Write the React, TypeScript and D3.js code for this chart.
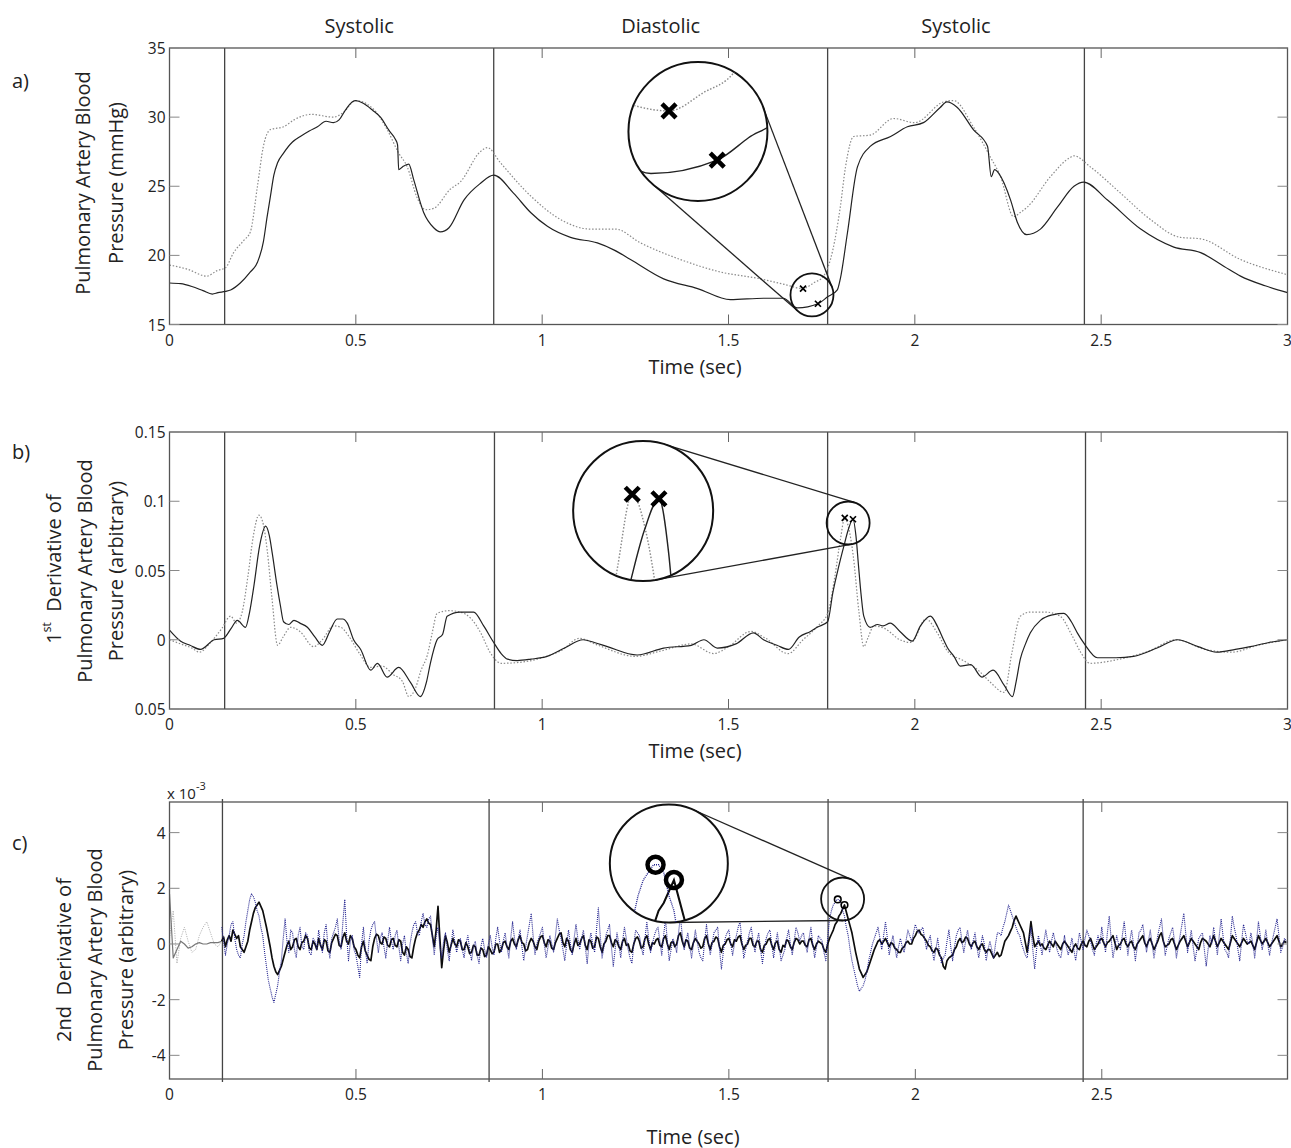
import * as d3 from "d3";

const FONT = "'Open Sans', 'DejaVu Sans', sans-serif";
const W = 1291;
const H = 1148;
const LEFT = 169.5;
const RIGHT = 1287.5;

// ---------- shared
const phaseNames = ["Systolic", "Diastolic", "Systolic"];
const timeTicks = [0, 0.5, 1, 1.5, 2, 2.5, 3];
const timeTickLabels = ["0", "0.5", "1", "1.5", "2", "2.5", "3"];

// ---------- a) pressure (mmHg)
const aSolidT = [0, 0.03, 0.06, 0.09, 0.115, 0.13, 0.15, 0.164, 0.19, 0.217, 0.236, 0.252, 0.262, 0.271, 0.28, 0.29, 0.306, 0.33, 0.351, 0.375, 0.397, 0.42, 0.44, 0.455, 0.472, 0.49, 0.5, 0.52, 0.545, 0.566, 0.59, 0.606, 0.612, 0.615, 0.625, 0.642, 0.655, 0.682, 0.709, 0.727, 0.75, 0.79, 0.834, 0.87, 0.923, 0.969, 1.014, 1.076, 1.148, 1.192, 1.237, 1.326, 1.417, 1.505, 1.594, 1.647, 1.685, 1.74, 1.766, 1.792, 1.8, 1.819, 1.846, 1.881, 1.935, 1.98, 2.023, 2.068, 2.086, 2.114, 2.157, 2.195, 2.205, 2.214, 2.226, 2.257, 2.275, 2.3, 2.337, 2.383, 2.427, 2.453, 2.517, 2.606, 2.695, 2.767, 2.83, 2.874, 2.94, 3.0];
const aSolidP = [18.0, 17.95, 17.75, 17.45, 17.2, 17.3, 17.4, 17.5, 18.0, 18.8, 19.5, 21.0, 22.8, 24.3, 25.8, 26.7, 27.4, 28.2, 28.6, 29.0, 29.3, 29.7, 29.6, 29.8, 30.5, 31.1, 31.2, 31.0, 30.5, 30.0, 29.0, 28.4, 28.0, 26.2, 26.4, 26.6, 25.5, 23.1, 22.0, 21.7, 22.0, 24.0, 25.2, 25.8, 24.5, 23.1, 22.1, 21.3, 20.9, 20.4, 19.7, 18.3, 17.6, 16.8, 16.9, 16.9, 16.2, 16.5, 17.0, 17.5, 18.3, 21.6, 26.4, 27.9, 28.6, 29.3, 29.6, 30.7, 31.1, 30.7, 29.1, 27.9, 25.7, 26.2, 25.9, 24.0, 22.4, 21.5, 21.9, 23.5, 25.0, 25.3, 24.0, 21.9, 20.6, 20.2, 19.2, 18.5, 17.8, 17.3];
const aDotT = [0, 0.048, 0.1, 0.128, 0.15, 0.172, 0.2, 0.217, 0.236, 0.252, 0.271, 0.306, 0.334, 0.38, 0.44, 0.465, 0.5, 0.55, 0.584, 0.615, 0.638, 0.664, 0.687, 0.709, 0.754, 0.78, 0.834, 0.853, 0.888, 0.969, 1.049, 1.13, 1.197, 1.264, 1.371, 1.478, 1.586, 1.65, 1.7, 1.728, 1.755, 1.78, 1.8, 1.814, 1.836, 1.88, 1.943, 2.0, 2.077, 2.104, 2.157, 2.203, 2.23, 2.265, 2.283, 2.302, 2.364, 2.418, 2.427, 2.471, 2.552, 2.632, 2.713, 2.766, 2.874, 3.0];
const aDotP = [19.3, 19.0, 18.5, 18.9, 19.1, 20.2, 21.1, 21.7, 25.0, 27.9, 29.1, 29.3, 29.8, 30.2, 30.0, 30.3, 31.2, 30.5, 29.1, 27.4, 26.4, 24.2, 23.3, 23.4, 24.8, 25.3, 27.5, 27.8, 26.7, 24.3, 22.6, 21.9, 21.9, 20.9, 19.7, 18.8, 18.3, 17.9, 17.6, 18.0, 18.5, 20.4, 23.5, 26.4, 28.6, 28.7, 29.9, 29.6, 31.1, 31.2, 29.3, 27.1, 25.7, 22.8, 23.1, 23.5, 25.7, 27.1, 27.2, 26.4, 24.5, 22.6, 21.3, 21.2, 19.7, 18.6];
const aPhaseLines = [0.148, 0.87, 1.766, 2.455];
const aMarks: [number, number][] = [[1.7, 17.6], [1.74, 16.5]];
const aYTicks = [15, 20, 25, 30, 35];
const aYTickLabels = ["15", "20", "25", "30", "35"];

// ---------- b) 1st derivative
const bSolidT = [0, 0.03, 0.055, 0.083, 0.12, 0.145, 0.165, 0.182, 0.204, 0.215, 0.226, 0.242, 0.258, 0.268, 0.276, 0.288, 0.298, 0.306, 0.32, 0.334, 0.35, 0.37, 0.39, 0.41, 0.43, 0.45, 0.465, 0.477, 0.494, 0.513, 0.54, 0.558, 0.584, 0.615, 0.647, 0.673, 0.69, 0.7, 0.718, 0.733, 0.745, 0.78, 0.816, 0.843, 0.87, 0.89, 0.907, 0.933, 0.97, 1.013, 1.06, 1.11, 1.14, 1.175, 1.255, 1.326, 1.4, 1.434, 1.47, 1.52, 1.567, 1.594, 1.63, 1.661, 1.69, 1.72, 1.738, 1.766, 1.78, 1.795, 1.809, 1.822, 1.834, 1.842, 1.849, 1.856, 1.863, 1.88, 1.9, 1.915, 1.934, 1.96, 1.993, 2.015, 2.042, 2.06, 2.077, 2.088, 2.105, 2.122, 2.15, 2.18, 2.21, 2.24, 2.262, 2.272, 2.283, 2.297, 2.31, 2.337, 2.37, 2.4, 2.42, 2.436, 2.455, 2.49, 2.54, 2.587, 2.65, 2.705, 2.76, 2.81, 2.86, 2.9, 2.95, 3.0];
const bSolidV = [0.007, -0.001, -0.004, -0.007, 0.0, 0.001, 0.008, 0.014, 0.009, 0.02, 0.038, 0.068, 0.082, 0.075, 0.062, 0.04, 0.024, 0.013, 0.011, 0.014, 0.012, 0.009, 0.002, -0.004, 0.006, 0.015, 0.015, 0.012, 0.0, -0.007, -0.022, -0.017, -0.027, -0.02, -0.031, -0.041, -0.03, -0.017, 0.0, 0.004, 0.017, 0.02, 0.02, 0.01, -0.002, -0.01, -0.014, -0.015, -0.014, -0.012, -0.006, 0.0, -0.002, -0.005, -0.011, -0.006, -0.004, 0.0, -0.006, -0.003, 0.005, 0.0, -0.004, -0.007, 0.002, 0.006, 0.009, 0.013, 0.034, 0.052, 0.067, 0.08, 0.087, 0.075, 0.053, 0.032, 0.017, 0.009, 0.011, 0.01, 0.012, 0.006, -0.001, 0.01, 0.017, 0.01, 0.0, -0.006, -0.012, -0.019, -0.018, -0.027, -0.022, -0.033, -0.041, -0.03, -0.014, -0.003, 0.005, 0.014, 0.018, 0.019, 0.013, 0.005, -0.003, -0.013, -0.013, -0.012, -0.006, 0.0, -0.005, -0.009, -0.007, -0.005, -0.002, 0.0];
const bDotT = [0, 0.03, 0.06, 0.08, 0.11, 0.14, 0.164, 0.18, 0.195, 0.21, 0.225, 0.24, 0.252, 0.262, 0.275, 0.29, 0.305, 0.325, 0.35, 0.387, 0.41, 0.44, 0.46, 0.48, 0.51, 0.54, 0.57, 0.6, 0.625, 0.642, 0.66, 0.675, 0.692, 0.705, 0.718, 0.75, 0.78, 0.81, 0.835, 0.86, 0.89, 0.95, 1.0, 1.05, 1.1, 1.15, 1.25, 1.32, 1.4, 1.46, 1.5, 1.56, 1.6, 1.66, 1.7, 1.74, 1.766, 1.785, 1.8, 1.812, 1.823, 1.835, 1.85, 1.863, 1.875, 1.89, 1.92, 1.96, 1.99, 2.03, 2.06, 2.09, 2.13, 2.17, 2.2, 2.24, 2.26, 2.283, 2.31, 2.35, 2.39, 2.42, 2.445, 2.47, 2.55, 2.63, 2.7, 2.78, 2.85, 2.92, 3.0];
const bDotV = [0.0, -0.003, -0.006, -0.009, -0.002, 0.008, 0.017, 0.012, 0.02, 0.045, 0.075, 0.09, 0.083, 0.065, 0.03, -0.004, 0.002, 0.009, 0.006, -0.005, 0.0, 0.01, 0.009, 0.003, -0.01, -0.02, -0.019, -0.025, -0.03, -0.041, -0.035, -0.022, -0.011, 0.005, 0.019, 0.021, 0.02, 0.015, 0.005, -0.009, -0.017, -0.016, -0.013, -0.008, 0.001, -0.004, -0.012, -0.008, -0.003, -0.01, -0.005, 0.006, 0.001, -0.01, 0.0, 0.01, 0.019, 0.045, 0.072, 0.088, 0.08, 0.06, 0.02, -0.005, 0.002, 0.01, 0.008, 0.0, -0.002, 0.015, 0.005, -0.009, -0.015, -0.022, -0.03, -0.038, -0.01, 0.017, 0.02, 0.02, 0.017, 0.004, -0.009, -0.017, -0.014, -0.008, 0.0, -0.007, -0.009, -0.004, 0.0];
const bPhaseLines = [0.148, 0.872, 1.766, 2.458];
const bMarks: [number, number][] = [[1.812, 0.088], [1.834, 0.087]];
const bYTicks = [-0.05, 0, 0.05, 0.1, 0.15];
const bYTickLabels = ["0.05", "0", "0.05", "0.1", "0.15"];

// ---------- c) 2nd derivative (x 10^-3)
// first 0.14 s (10 ms samples), drawn in grey
const cPreStep = 0.01;
const cPreSolid = [1.8, -0.5, -0.2, 0.1, 0.0, -0.15, -0.1, 0.0, 0.05, 0.0, 0.0, 0.05, 0.05, 0.05, 0.1];
const cPreDot = [0.2, 1.2, -0.7, 0.2, 0.6, 0.1, -0.3, -0.2, 0.3, 0.6, 0.8, 0.4, 0.0, -0.1, 0.1];
// from 0.14 s on, 5 ms samples
const cStart = 0.14;
const cStep = 0.005;
const cSolid = [
  0.1, 0.25, -0.1, 0.15, 0.3, 0.1, 0.5, 0.35, 0.2, 0.3, -0.1, -0.2,
  -0.3, -0.1, 0.1, 0.5, 0.8, 1.1, 1.3, 1.4, 1.5, 1.35, 1.2, 0.9, 0.6, 0.25, -0.1, -0.5, -0.8, -1.0, -1.1, -0.95,
  -0.8, -0.55, -0.3, -0.05, 0.1, -0.2, -0.1, 0.15, 0.2, -0.1, -0.2, 0.05, 0.1, 0.3, 0.2, -0.15, -0.2, 0.1, 0.0, -0.2,
  0.2, -0.05, -0.2, 0.15, 0.1, -0.25, -0.3, 0.05, 0.2, 0.35, 0.3, -0.05, -0.1, 0.25, 0.4, 0.1, 0.0, 0.3, 0.2, -0.1,
  -0.2, -0.4, -0.5, -0.1, 0.1, -0.25, -0.4, -0.55, -0.6, -0.1, 0.2, 0.35, 0.3, 0.05, 0.0, 0.25, 0.2, -0.05, -0.1, 0.15,
  0.2, -0.05, -0.1, 0.15, 0.1, -0.3, -0.4, -0.1, -0.2, -0.45, -0.5, -0.1, 0.2, 0.4, 0.5, 0.7, 0.6, 0.8, 0.9, 0.75,
  0.7, 0.3, -0.1, 0.5, 1.35, 0.2, -0.85, -0.2, 0.3, 0.05, -0.3, -0.05, 0.2, 0.0, -0.1, 0.15, 0.1, -0.2, -0.2, 0.05,
  -0.1, -0.35, -0.3, -0.05, -0.1, -0.4, -0.4, -0.15, -0.2, -0.45, -0.4, -0.1, -0.2, -0.35, -0.3, 0.0, 0.0, -0.3, -0.2, 0.05,
  0.1, -0.1, -0.2, 0.1, 0.2, 0.0, -0.1, 0.15, 0.3, 0.05, 0.0, -0.25, -0.2, 0.05, 0.2, 0.1, -0.1, -0.2, 0.1, 0.25,
  0.3, 0.05, -0.1, 0.15, 0.1, -0.15, -0.2, 0.05, 0.2, 0.35, 0.4, 0.05, -0.1, 0.2, 0.1, -0.2, -0.3, 0.0, 0.2, -0.05,
  0.0, 0.2, 0.3, -0.05, -0.2, 0.15, 0.1, -0.15, -0.1, 0.25, 0.2, -0.1, -0.3, 0.0, 0.1, 0.3, 0.3, 0.05, -0.1, 0.15,
  0.1, -0.1, -0.2, 0.1, 0.2, -0.05, 0.0, -0.25, -0.3, 0.0, 0.2, 0.25, 0.1, -0.15, -0.1, 0.2, 0.3, 0.0, -0.2, 0.05,
  0.0, 0.15, 0.2, -0.05, -0.1, 0.2, 0.3, 0.0, -0.2, 0.05, 0.1, -0.1, 0.0, 0.3, 0.4, 0.1, -0.1, 0.15, 0.1, -0.15,
  -0.2, 0.05, 0.2, 0.1, 0.0, -0.15, -0.1, 0.2, 0.3, 0.0, -0.2, 0.05, 0.1, 0.25, 0.2, -0.1, -0.3, -0.05, 0.0, 0.15,
  0.2, 0.0, -0.1, 0.15, 0.1, 0.25, 0.3, 0.0, -0.2, -0.05, 0.0, 0.2, 0.2, -0.05, -0.1, 0.1, 0.1, -0.2, -0.3, -0.05,
  0.0, 0.15, 0.2, -0.05, -0.2, 0.05, 0.1, -0.2, -0.3, -0.05, -0.1, 0.15, 0.1, -0.1, -0.2, 0.05, 0.2, 0.15, 0.0, 0.1,
  0.1, -0.05, -0.1, 0.15, 0.2, -0.05, -0.2, 0.0, 0.1, 0.05, 0.0, -0.2, -0.3, 0.0, 0.2, 0.35, 0.5, 0.7, 0.8, 1.0,
  1.1, 1.25, 1.4, 1.15, 0.9, 0.65, 0.4, 0.05, -0.3, -0.6, -0.9, -1.05, -1.2, -1.1, -1.0, -0.8, -0.6, -0.4, -0.2, -0.05,
  0.1, 0.15, 0.0, 0.1, 0.2, 0.05, -0.1, 0.05, 0.0, -0.15, -0.2, -0.3, -0.3, -0.15, -0.1, 0.05, 0.1, 0.0, 0.0, 0.2,
  0.3, 0.45, 0.5, 0.35, 0.3, 0.2, 0.1, -0.05, -0.1, -0.25, -0.3, -0.15, -0.2, -0.4, -0.5, -0.8, -0.9, -0.6, -0.5, -0.45,
  -0.4, -0.2, -0.1, 0.1, 0.2, 0.05, 0.1, 0.25, 0.2, 0.0, -0.1, 0.05, 0.1, -0.1, -0.2, -0.05, 0.0, -0.2, -0.3, -0.2,
  -0.2, -0.35, -0.5, -0.4, -0.3, -0.45, -0.4, -0.15, 0.1, 0.2, 0.3, 0.45, 0.6, 0.85, 1.0, 0.85, 0.7, 0.55, 0.4, 0.05,
  -0.3, 0.2, 0.8, 0.3, -0.1, 0.0, 0.1, -0.05, 0.0, -0.15, -0.2, -0.05, 0.1, 0.0, -0.1, 0.1, 0.0, -0.1, -0.2, 0.0,
  0.1, 0.0, -0.1, -0.2, -0.3, -0.1, 0.0, -0.15, -0.2, 0.0, 0.1, -0.05, -0.1, 0.1, 0.2, 0.0, -0.2, -0.1, 0.0, 0.15,
  0.2, 0.05, -0.1, 0.05, 0.1, 0.2, 0.3, 0.05, -0.2, -0.05, 0.0, 0.15, 0.2, 0.0, -0.1, 0.05, 0.1, -0.1, -0.2, 0.0,
  0.1, 0.2, 0.3, 0.05, -0.1, 0.1, 0.2, 0.0, -0.2, -0.05, 0.1, 0.3, 0.4, 0.1, -0.1, -0.05, 0.0, 0.15, 0.2, 0.0,
  -0.2, -0.05, 0.1, 0.2, 0.3, 0.1, -0.1, 0.05, 0.2, 0.1, 0.0, -0.1, -0.2, 0.05, 0.2, 0.15, 0.1, 0.0, -0.1, 0.1,
  0.3, 0.1, -0.1, 0.05, 0.2, 0.1, 0.0, -0.1, -0.2, 0.05, 0.3, 0.2, 0.1, 0.0, -0.1, 0.05, 0.2, 0.1, 0.0, 0.05,
  0.1, -0.05, -0.2, 0.05, 0.3, 0.15, 0.0, 0.1, 0.2, 0.05, -0.1, 0.0, 0.1, 0.2, 0.3, 0.1, -0.1, 0.0, 0.1, 0.05,
];
const cDot = [
  0.6, 0.1, -0.4, 0.0, 0.3, 0.7, 0.8, 0.2, -0.2, -0.4, -0.5, 0.0,
  0.3, 0.8, 1.2, 1.6, 1.8, 1.7, 1.5, 1.2, 1.0, 0.6, 0.3, -0.3, -0.8, -1.3, -1.6, -1.9, -2.1, -1.8, -1.5, -1.0,
  -0.6, 0.2, 0.9, 0.1, -0.3, 0.5, 0.4, -0.2, -0.5, 0.3, 0.6, -0.1, -0.2, 0.4, 0.3, -0.3, -0.4, 0.2, 0.1, -0.2,
  0.5, 0.0, -0.3, 0.4, 0.7, -0.1, -0.5, 0.2, 0.4, 0.6, 0.9, 0.1, -0.2, 0.8, 1.6, 0.3, -0.6, 0.1, 0.3, -0.2,
  -0.4, -0.8, -1.2, 0.0, 0.6, -0.2, -0.7, 0.1, 0.5, 0.7, 0.8, 0.2, -0.3, 0.2, 0.4, -0.1, -0.5, 0.1, 0.6, 0.1,
  -0.2, 0.3, 0.5, -0.1, -0.6, 0.0, 0.3, -0.3, -0.7, 0.0, 0.4, 0.7, 0.8, 0.4, 0.3, 0.8, 1.1, 0.7, 0.6, 0.9,
  1.0, 0.2, -0.4, 0.3, 0.6, -0.1, -0.5, 0.1, 0.4, -0.2, -0.6, 0.0, 0.5, 0.1, -0.3, 0.0, 0.2, -0.2, -0.5, 0.0,
  0.3, -0.2, -0.6, -0.1, 0.1, -0.4, -0.7, -0.1, 0.2, -0.2, -0.5, 0.0, 0.3, -0.1, -0.4, 0.2, 0.6, 0.1, -0.3, 0.1,
  0.4, -0.1, -0.5, 0.2, 0.8, 0.2, -0.2, 0.2, 0.5, -0.1, -0.6, -0.1, 0.3, 0.7, 1.1, 0.3, -0.4, 0.0, 0.2, 0.4,
  0.6, 0.0, -0.5, -0.1, 0.3, 0.0, -0.3, 0.3, 0.9, 0.5, 0.2, -0.2, -0.6, 0.0, 0.5, 0.0, -0.4, 0.2, 0.7, 0.2,
  -0.2, 0.2, 0.5, -0.1, -0.7, 0.0, 0.4, 0.0, -0.3, 0.5, 1.3, 0.3, -0.5, -0.1, 0.3, 0.5, 0.7, -0.1, -0.8, -0.2,
  0.4, 0.0, -0.5, 0.1, 0.6, 0.2, -0.2, -0.5, -0.7, 0.0, 0.5, 0.4, 0.3, -0.1, -0.4, 0.2, 0.8, 0.2, -0.3, 0.0,
  0.3, 0.5, 0.6, 0.1, -0.4, 0.3, 0.9, 0.1, -0.6, -0.2, 0.2, 0.0, -0.3, 0.4, 1.0, 0.3, -0.2, 0.1, 0.4, -0.1,
  -0.5, 0.0, 0.5, 0.1, -0.3, -0.5, -0.6, 0.1, 0.7, 0.1, -0.4, 0.0, 0.4, 0.5, 0.6, -0.2, -0.9, -0.3, 0.2, 0.4,
  0.5, 0.0, -0.4, 0.0, 0.3, 0.6, 0.8, 0.1, -0.5, -0.2, 0.1, 0.4, 0.6, 0.1, -0.3, 0.1, 0.4, -0.2, -0.7, -0.2,
  0.2, 0.4, 0.5, 0.0, -0.5, 0.0, 0.4, -0.1, -0.6, -0.4, -0.2, 0.2, 0.5, 0.0, -0.4, 0.1, 0.6, 0.4, 0.1, 0.3,
  0.4, 0.0, -0.3, 0.2, 0.6, 0.0, -0.5, -0.1, 0.3, 0.2, 0.1, -0.3, -0.6, 0.2, 0.9, 1.2, 1.4, 1.5, 1.6, 1.6,
  1.5, 1.2, 1.0, 0.6, 0.3, -0.2, -0.6, -0.9, -1.2, -1.5, -1.7, -1.6, -1.5, -1.3, -1.0, -0.6, -0.3, 0.0, 0.2, 0.4,
  0.6, 0.2, -0.2, 0.3, 0.8, 0.2, -0.4, 0.0, 0.3, -0.1, -0.5, -0.1, 0.2, -0.1, -0.3, 0.1, 0.5, 0.3, 0.1, 0.4,
  0.7, 0.5, 0.4, 0.5, 0.6, 0.2, -0.2, 0.1, 0.3, -0.2, -0.6, -0.2, 0.2, -0.3, -0.7, -0.5, -0.4, 0.1, 0.5, -0.1,
  -0.6, -0.1, 0.3, 0.5, 0.6, 0.1, -0.3, 0.1, 0.5, 0.1, -0.2, 0.1, 0.4, -0.1, -0.5, -0.1, 0.3, 0.0, -0.6, -0.2,
  0.1, -0.2, -0.5, 0.0, 0.4, 0.4, 0.3, 0.6, 0.8, 1.1, 1.4, 1.2, 1.0, 0.8, 0.6, 0.4, 0.3, 0.0, -0.2, -0.4,
  -0.5, 0.1, 0.6, -0.2, -0.9, -0.2, 0.3, 0.0, -0.4, 0.1, 0.5, 0.1, -0.3, 0.1, 0.4, 0.1, -0.2, -0.4, -0.5, -0.1,
  0.3, -0.1, -0.4, -0.1, 0.2, -0.2, -0.6, -0.1, 0.4, 0.1, -0.2, 0.2, 0.5, 0.3, 0.1, -0.2, -0.4, 0.0, 0.3, 0.0,
  0.6, 0.1, -0.3, 0.4, 1.0, 0.2, -0.5, -0.1, 0.3, 0.0, -0.2, 0.3, 0.8, 0.2, -0.4, 0.1, 0.5, 0.0, -0.6, -0.1,
  0.4, 0.5, 0.7, 0.2, -0.3, 0.1, 0.5, 0.0, -0.5, -0.1, 0.3, 0.6, 0.9, 0.2, -0.4, -0.1, 0.2, 0.4, 0.6, 0.1,
  -0.5, -0.1, 0.3, 0.7, 1.1, 0.4, -0.3, 0.1, 0.5, -0.1, -0.6, -0.2, 0.2, 0.3, 0.4, -0.2, -0.8, -0.2, 0.3, 0.0,
  0.6, 0.1, -0.4, 0.3, 0.9, 0.3, -0.2, -0.3, -0.5, 0.2, 1.0, 0.6, 0.3, -0.2, -0.6, 0.1, 0.7, 0.4, 0.1, 0.0,
  0.4, 0.0, -0.5, 0.1, 0.8, 0.3, -0.2, 0.1, 0.5, 0.0, -0.4, 0.0, 0.3, 0.6, 0.9, 0.3, -0.3, -0.1, 0.2, 0.1,
];
const cPhaseLines = [0.142, 0.857, 1.766, 2.45];
const cMarks: [number, number][] = [[1.792, 1.6], [1.81, 1.4]];
const cYTicks = [-4, -2, 0, 2, 4];
const cYTickLabels = ["-4", "-2", "0", "2", "4"];

type Series = { t: number[]; v: number[]; stroke: string; width: number; dash?: string; smooth?: boolean };
type Mag = { small: [number, number]; smallR: number; big: [number, number]; bigR: number };

function xPath(cx: number, cy: number, s: number) {
  return `M${cx - s},${cy - s}L${cx + s},${cy + s}M${cx - s},${cy + s}L${cx + s},${cy - s}`;
}

// outer tangent lines between the two magnifier circles
function tangents(c1x: number, c1y: number, r1: number, c2x: number, c2y: number, r2: number) {
  const dx = c2x - c1x, dy = c2y - c1y, D = Math.hypot(dx, dy);
  const ux = dx / D, uy = dy / D, px = -uy, py = ux;
  const c = (r1 - r2) / D, s = Math.sqrt(1 - c * c);
  return [1, -1].map((k) => {
    const nx = ux * c + k * px * s, ny = uy * c + k * py * s;
    return [c1x + r1 * nx, c1y + r1 * ny, c2x + r2 * nx, c2y + r2 * ny];
  });
}

type PanelProps = {
  id: string;
  top: number;
  bottom: number;
  xMax: number;
  yDomain: [number, number];
  xTicks: number[];
  xTickLabels: string[];
  yTicks: number[];
  yTickLabels: string[];
  dividers: number[];
  dividerExtra: number;
  series: Series[];
  marks: [number, number][];
  markShape: "x" | "o";
  mag: Mag;
};

function Panel(p: PanelProps) {
  const x = d3.scaleLinear().domain([0, p.xMax]).range([LEFT, RIGHT]);
  const y = d3.scaleLinear().domain(p.yDomain).range([p.bottom, p.top]);
  const tk = 10;

  const mainLine = (s: Series) =>
    d3
      .line<number>()
      .x((_, i) => x(s.t[i]))
      .y((d) => y(d))
      .curve(s.smooth ? d3.curveMonotoneX : d3.curveLinear)(s.v) || "";

  const sx = x(p.mag.small[0]);
  const sy = y(p.mag.small[1]);
  const bx = x(p.mag.big[0]);
  const by = y(p.mag.big[1]);
  const m = p.mag.bigR / p.mag.smallR;
  const magLine = (s: Series) => {
    const idx = s.t.map((_, i) => i).filter((i) => Math.abs(x(s.t[i]) - sx) < p.mag.smallR * 1.6);
    return (
      d3
        .line<number>()
        .x((i) => bx + m * (x(s.t[i]) - sx))
        .y((i) => by + m * (y(s.v[i]) - sy))
        .curve(s.smooth ? d3.curveMonotoneX : d3.curveLinear)(idx) || ""
    );
  };
  const tl = tangents(bx, by, p.mag.bigR, sx, sy, p.mag.smallR);

  const drawMark = (cx: number, cy: number, big: boolean, key: number) =>
    p.markShape === "x" ? (
      <path key={key} d={xPath(cx, cy, big ? 7 : 3)} stroke="#000" strokeWidth={big ? 4.5 : 1.7} fill="none" />
    ) : (
      <circle key={key} cx={cx} cy={cy} r={big ? 8 : 3.3} stroke="#000" strokeWidth={big ? 4.5 : 1.6} fill="none" />
    );

  return (
    <g>
      <defs>
        <clipPath id={`${p.id}-plot`}>
          <rect x={LEFT} y={p.top} width={RIGHT - LEFT} height={p.bottom - p.top} />
        </clipPath>
        <clipPath id={`${p.id}-mag`}>
          <circle cx={bx} cy={by} r={p.mag.bigR} />
        </clipPath>
      </defs>

      {/* phase dividers */}
      {p.dividers.map((d, i) => (
        <line key={i} x1={x(d)} x2={x(d)} y1={p.top - p.dividerExtra} y2={p.bottom + p.dividerExtra} stroke="#444" strokeWidth={1.3} />
      ))}

      {/* data */}
      <g clipPath={`url(#${p.id}-plot)`}>
        {p.series.map((s, i) => (
          <path key={i} d={mainLine(s)} fill="none" stroke={s.stroke} strokeWidth={s.width} strokeDasharray={s.dash} strokeLinejoin="round" />
        ))}
      </g>

      {/* box, ticks */}
      <rect x={LEFT} y={p.top} width={RIGHT - LEFT} height={p.bottom - p.top} fill="none" stroke="#555" strokeWidth={1.3} />
      {p.xTicks.map((t, i) => (
        <g key={i}>
          {t > 0 && t < p.xMax && (
            <>
              <line x1={x(t)} x2={x(t)} y1={p.bottom} y2={p.bottom - tk} stroke="#666" />
              <line x1={x(t)} x2={x(t)} y1={p.top} y2={p.top + tk} stroke="#666" />
            </>
          )}
          <text x={x(t)} y={p.bottom + 15} textAnchor="middle" dominantBaseline="central" fontSize={15.5} fill="#222">
            {p.xTickLabels[i]}
          </text>
        </g>
      ))}
      {p.yTicks.map((v, i) => (
        <g key={i}>
          <line x1={LEFT} x2={LEFT + tk} y1={y(v)} y2={y(v)} stroke="#888" />
          <line x1={RIGHT} x2={RIGHT - tk} y1={y(v)} y2={y(v)} stroke="#888" />
          <text x={LEFT - 4} y={y(v)} textAnchor="end" dominantBaseline="central" fontSize={15.5} fill="#222">
            {p.yTickLabels[i]}
          </text>
        </g>
      ))}

      {/* markers */}
      {p.marks.map((mk, i) => drawMark(x(mk[0]), y(mk[1]), false, i))}

      {/* magnifier */}
      {tl.map((l, i) => (
        <line key={i} x1={l[0]} y1={l[1]} x2={l[2]} y2={l[3]} stroke="#222" strokeWidth={1.3} />
      ))}
      <circle cx={sx} cy={sy} r={p.mag.smallR} fill="none" stroke="#111" strokeWidth={1.8} />
      <circle cx={bx} cy={by} r={p.mag.bigR} fill="#fff" stroke="#111" strokeWidth={2} />
      <g clipPath={`url(#${p.id}-mag)`}>
        {p.series.map((s, i) => (
          <path key={i} d={magLine(s)} fill="none" stroke={s.stroke} strokeWidth={s.width * 1.2} strokeDasharray={s.dash} />
        ))}
        {p.marks.map((mk, i) => drawMark(bx + m * (x(mk[0]) - sx), by + m * (y(mk[1]) - sy), true, i))}
      </g>
    </g>
  );
}

function RotLabel({ x, cy, children }: { x: number; cy: number; children: any }) {
  return (
    <text transform={`translate(${x},${cy}) rotate(-90)`} textAnchor="middle" dominantBaseline="central" fontSize={20} fill="#222">
      {children}
    </text>
  );
}

export default function App() {
  const cPreT = cPreSolid.map((_, i) => i * cPreStep);
  const cT = cSolid.map((_, i) => cStart + i * cStep);
  const xA = d3.scaleLinear().domain([0, 3]).range([LEFT, RIGHT]);
  const phaseMids = phaseNames.map((_, i) => (aPhaseLines[i] + aPhaseLines[i + 1]) / 2);

  return (
    <svg width={W} height={H} style={{ position: "absolute", left: 0, top: 0, background: "#fff" }} fontFamily={FONT}>
      <rect width={W} height={H} fill="#fff" />

      {phaseNames.map((n, i) => (
        <text key={i} x={xA(phaseMids[i])} y={25} textAnchor="middle" dominantBaseline="central" fontSize={20} fill="#222">
          {n}
        </text>
      ))}

      {/* a */}
      <text x={12} y={80} fontSize={20} dominantBaseline="central" fill="#222">a)</text>
      <RotLabel x={82} cy={183}>Pulmonary Artery Blood</RotLabel>
      <RotLabel x={115} cy={183}>Pressure (mmHg)</RotLabel>
      <Panel
        id="pa"
        top={48}
        bottom={324.5}
        xMax={3}
        yDomain={[15, 35]}
        xTicks={timeTicks}
        xTickLabels={timeTickLabels}
        yTicks={aYTicks}
        yTickLabels={aYTickLabels}
        dividers={aPhaseLines}
        dividerExtra={0}
        series={[
          { t: aDotT, v: aDotP, stroke: "#8a8a8a", width: 1.2, dash: "1.5,1.8", smooth: true },
          { t: aSolidT, v: aSolidP, stroke: "#222", width: 1.2, smooth: true },
        ]}
        marks={aMarks}
        markShape="x"
        mag={{ small: [1.724, 17.14], smallR: 21.5, big: [1.418, 28.96], bigR: 69.5 }}
      />
      <text x={695} y={366} textAnchor="middle" dominantBaseline="central" fontSize={20} fill="#222">Time (sec)</text>

      {/* b */}
      <text x={12} y={451} fontSize={20} dominantBaseline="central" fill="#222">b)</text>
      <RotLabel x={53} cy={569}>
        <tspan>1</tspan>
        <tspan fontSize={12} dy={-7}>st</tspan>
        <tspan dy={7}>{"\u00a0 Derivative of"}</tspan>
      </RotLabel>
      <RotLabel x={84} cy={571}>Pulmonary Artery Blood</RotLabel>
      <RotLabel x={115} cy={571}>Pressure (arbitrary)</RotLabel>
      <Panel
        id="pb"
        top={432}
        bottom={709}
        xMax={3}
        yDomain={[-0.05, 0.15]}
        xTicks={timeTicks}
        xTickLabels={timeTickLabels}
        yTicks={bYTicks}
        yTickLabels={bYTickLabels}
        dividers={bPhaseLines}
        dividerExtra={0}
        series={[
          { t: bDotT, v: bDotV, stroke: "#8a8a8a", width: 1.2, dash: "1.5,1.8", smooth: true },
          { t: bSolidT, v: bSolidV, stroke: "#222", width: 1.2, smooth: true },
        ]}
        marks={bMarks}
        markShape="x"
        mag={{ small: [1.821, 0.0843], smallR: 21.5, big: [1.271, 0.093], bigR: 70 }}
      />
      <text x={695} y={750} textAnchor="middle" dominantBaseline="central" fontSize={20} fill="#222">Time (sec)</text>

      {/* c */}
      <text x={12} y={842} fontSize={20} dominantBaseline="central" fill="#222">c)</text>
      <RotLabel x={63} cy={960}>{"2nd\u00a0 Derivative of"}</RotLabel>
      <RotLabel x={94} cy={960}>Pulmonary Artery Blood</RotLabel>
      <RotLabel x={125} cy={960}>Pressure (arbitrary)</RotLabel>
      <text x={167} y={793} fontSize={15} dominantBaseline="central" fill="#222">
        x 10<tspan fontSize={11} dy={-8}>-3</tspan>
      </text>
      <Panel
        id="pc"
        top={802}
        bottom={1079}
        xMax={2.998}
        yDomain={[-4.85, 5.1]}
        xTicks={timeTicks.slice(0, 6)}
        xTickLabels={timeTickLabels.slice(0, 6)}
        yTicks={cYTicks}
        yTickLabels={cYTickLabels}
        dividers={cPhaseLines}
        dividerExtra={3}
        series={[
          { t: cPreT, v: cPreDot, stroke: "#b5b5b5", width: 1, dash: "1.2,1.2" },
          { t: cPreT, v: cPreSolid, stroke: "#777", width: 1.2 },
          { t: cT, v: cSolid, stroke: "#0d0d0d", width: 1.7 },
          { t: cT, v: cDot, stroke: "#23238f", width: 1.1, dash: "1,1" },
        ]}
        marks={cMarks}
        markShape="o"
        mag={{ small: [1.805, 1.616], smallR: 21.5, big: [1.339, 2.89], bigR: 59 }}
      />
      <text x={693} y={1136} textAnchor="middle" dominantBaseline="central" fontSize={20} fill="#222">Time (sec)</text>
    </svg>
  );
}
